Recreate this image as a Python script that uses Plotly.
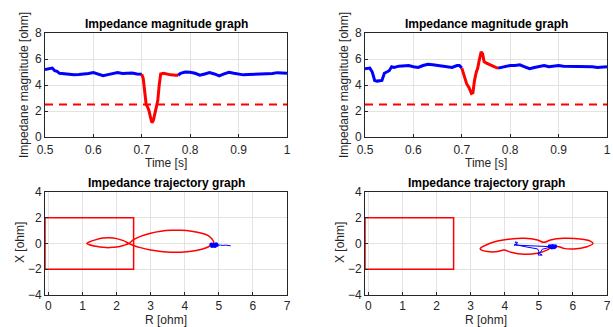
import plotly.graph_objects as go

# ---------------- data ----------------
# Left magnitude graph
t1_blue_a = [0.50, 0.505, 0.51, 0.515, 0.52, 0.525, 0.53, 0.54, 0.55, 0.56, 0.57, 0.58, 0.59, 0.60,
             0.61, 0.62, 0.63, 0.64, 0.65, 0.66, 0.67, 0.68, 0.69, 0.70]
z1_blue_a = [5.2, 5.25, 5.3, 5.3, 5.1, 5.05, 4.9, 4.85, 4.8, 4.78, 4.8, 4.82, 4.88, 4.95,
             4.85, 4.72, 4.8, 4.9, 4.95, 4.88, 4.9, 4.92, 4.85, 4.82]
t1_red = [0.70, 0.703, 0.706, 0.709, 0.712, 0.715, 0.718, 0.721, 0.724, 0.727, 0.730, 0.733, 0.736,
          0.739, 0.745, 0.75, 0.76, 0.77, 0.775]
z1_red = [4.82, 4.5, 3.5, 2.5, 2.3, 2.0, 1.5, 1.1, 1.3, 1.9, 2.4, 2.8, 4.0,
          4.85, 4.9, 4.85, 4.78, 4.75, 4.75]
t1_blue_b = [0.775, 0.78, 0.79, 0.80, 0.81, 0.82, 0.83, 0.84, 0.85, 0.86, 0.87, 0.88, 0.89, 0.90,
             0.91, 0.92, 0.93, 0.94, 0.95, 0.96, 0.97, 0.98, 0.99, 1.0]
z1_blue_b = [4.75, 4.9, 5.0, 4.98, 4.9, 4.75, 4.85, 4.95, 4.85, 4.7, 4.85, 4.98, 4.9, 4.85,
             4.78, 4.8, 4.82, 4.85, 4.82, 4.85, 4.88, 4.95, 4.9, 4.9]

# Right magnitude graph
t2_blue_a = [0.50, 0.505, 0.51, 0.515, 0.52, 0.525, 0.53, 0.535, 0.54, 0.545, 0.55, 0.555, 0.56, 0.57,
             0.58, 0.59, 0.60, 0.61, 0.62, 0.63, 0.64, 0.65, 0.66, 0.67, 0.68, 0.69, 0.695, 0.70]
z2_blue_a = [5.25, 5.25, 5.3, 5.0, 4.35, 4.3, 4.3, 4.35, 4.9, 5.0, 5.1, 5.4, 5.35, 5.45,
             5.45, 5.5, 5.4, 5.35, 5.5, 5.6, 5.55, 5.5, 5.45, 5.4, 5.35, 5.5, 5.5, 5.3]
t2_red = [0.70, 0.705, 0.71, 0.715, 0.72, 0.723, 0.726, 0.73, 0.733, 0.736, 0.74, 0.743, 0.746,
          0.75, 0.755, 0.76, 0.77, 0.775]
z2_red = [5.3, 4.6, 4.1, 3.8, 3.35, 3.4, 4.3, 5.0, 5.3, 5.9, 6.55, 6.4, 5.8,
          5.7, 5.6, 5.5, 5.35, 5.3]
t2_blue_b = [0.775, 0.78, 0.79, 0.80, 0.81, 0.82, 0.83, 0.84, 0.85, 0.86, 0.87, 0.88, 0.89, 0.90,
             0.91, 0.92, 0.93, 0.94, 0.95, 0.96, 0.97, 0.98, 0.99, 1.0]
z2_blue_b = [5.3, 5.35, 5.4, 5.5, 5.5, 5.55, 5.4, 5.25, 5.35, 5.45, 5.5, 5.4, 5.45, 5.5,
             5.45, 5.45, 5.4, 5.45, 5.45, 5.4, 5.4, 5.35, 5.4, 5.4]

threshold = 2.5
t_range = [0.5, 1.0]

# Protection zone rectangle
zone_r = [-0.1, 2.5, 2.5, -0.1, -0.1]
zone_x = [2.0, 2.0, -2.0, -2.0, 2.0]

# Left trajectory (red) and steady-state (blue)
traj1_r = [4.82, 4.85, 4.8, 4.7, 4.5, 4.2, 3.9, 3.6, 3.3, 3.0, 2.7, 2.5, 2.36,
           2.2, 2.0, 1.8, 1.6, 1.4, 1.2, 1.13, 1.2, 1.4, 1.6, 1.8, 2.0, 2.2, 2.36,
           2.5, 2.7, 3.0, 3.3, 3.6, 3.9, 4.2, 4.5, 4.7, 4.82]
traj1_x = [0.0, 0.12, 0.35, 0.6, 0.8, 0.95, 1.02, 1.02, 0.95, 0.8, 0.55, 0.3, 0.0,
           -0.15, -0.28, -0.32, -0.3, -0.22, -0.1, 0.0, 0.12, 0.3, 0.42, 0.45, 0.38, 0.22, 0.0,
           -0.15, -0.32, -0.5, -0.62, -0.68, -0.67, -0.6, -0.45, -0.25, -0.02]
ss1_r = [4.75, 4.8, 4.9, 4.85, 4.95, 4.88, 4.8, 4.92, 5.05, 5.1, 5.2, 5.35]
ss1_x = [-0.05, -0.15, -0.12, -0.05, -0.1, -0.2, -0.1, -0.15, -0.12, -0.15, -0.13, -0.18]
blob1_r = [4.78, 4.82, 4.86, 4.9, 4.94, 4.8, 4.88, 4.92]
blob1_x = [-0.08, -0.14, -0.1, -0.16, -0.12, -0.2, -0.2, -0.06]

# Right trajectory (red) and steady-state (blue)
traj2_r = [5.39, 5.25, 4.96, 4.57, 4.18, 3.98, 3.79, 3.5, 3.32, 3.28, 3.5, 3.79, 4.18, 4.57, 4.96,
           5.15, 5.34, 5.73, 6.22, 6.51, 6.59, 6.41, 6.02, 5.73, 5.59, 5.39]
traj2_x = [-0.25, -0.5, -0.76, -0.84, -0.68, -0.5, -0.63, -0.63, -0.52, -0.4, -0.06, 0.19, 0.35, 0.4, 0.27,
           0.09, 0.27, 0.4, 0.35, 0.19, 0.0, -0.25, -0.43, -0.38, -0.25, -0.25]
ss2_r = [5.39, 5.0, 4.6, 4.27, 4.35, 4.3, 4.38, 4.33, 4.6, 4.96, 5.0, 4.98, 5.1, 5.02, 5.1, 5.3, 5.39]
ss2_x = [-0.25, -0.2, -0.13, -0.12, -0.05, 0.12, 0.08, -0.1, -0.25, -0.42, -0.6, -0.9, -0.9, -0.8, -0.45, -0.3, -0.25]
blob2_r = [5.32, 5.36, 5.4, 5.44, 5.48, 5.38, 5.45]
blob2_x = [-0.22, -0.28, -0.2, -0.26, -0.22, -0.32, -0.3]

# ---------------- figure ----------------
BLUE = "#0000ff"
RED = "#ff0000"
fig = go.Figure()

def line(x, y, color, width, xa, ya, dash=None, shape="linear", mode="lines", msize=0):
    fig.add_trace(go.Scatter(x=x, y=y, mode=mode, xaxis=xa, yaxis=ya,
                             line=dict(color=color, width=width, dash=dash, shape=shape),
                             marker=dict(size=msize, color=color), showlegend=False,
                             hoverinfo="skip"))

# top-left
line(t1_blue_a, z1_blue_a, BLUE, 3, "x", "y")
line(t1_blue_b, z1_blue_b, BLUE, 3, "x", "y")
line(t1_red, z1_red, RED, 3, "x", "y")
line(t_range, [threshold, threshold], RED, 2, "x", "y", dash="8px,6px")
# top-right
line(t2_blue_a, z2_blue_a, BLUE, 3, "x2", "y2")
line(t2_blue_b, z2_blue_b, BLUE, 3, "x2", "y2")
line(t2_red, z2_red, RED, 3, "x2", "y2")
line(t_range, [threshold, threshold], RED, 2, "x2", "y2", dash="8px,6px")
# bottom-left
line(zone_r, zone_x, RED, 1.5, "x3", "y3")
line(traj1_r, traj1_x, RED, 1.5, "x3", "y3", shape="spline")
line(ss1_r, ss1_x, BLUE, 1, "x3", "y3")
line(blob1_r, blob1_x, BLUE, 0, "x3", "y3", mode="markers", msize=4)
# bottom-right
line(zone_r, zone_x, RED, 1.5, "x4", "y4")
line(traj2_r, traj2_x, RED, 1.5, "x4", "y4", shape="spline")
line(ss2_r, ss2_x, BLUE, 1, "x4", "y4")
line(blob2_r, blob2_x, BLUE, 0, "x4", "y4", mode="markers", msize=4)

FONT = "Liberation Sans, Arial, sans-serif"
W, H = 613, 327
L1, R1 = 45 / W, 287 / W
L2, R2 = 365 / W, 607 / W
T_top, B_top = 1 - 33 / H, 1 - 137 / H
T_bot, B_bot = 1 - 192 / H, 1 - 295 / H

axcommon = dict(showgrid=True, gridcolor="#e3e3e3", gridwidth=1, zeroline=False,
                showline=True, linecolor="#262626", linewidth=1, mirror=True,
                ticks="inside", ticklen=3, tickcolor="#262626", automargin=False,
                ticklabeloverflow="allow",
                tickfont=dict(family=FONT, size=12, color="#262626"))

tvals = [0.5, 0.6, 0.7, 0.8, 0.9, 1.0]
ttext = ["0.5", "0.6", "0.7", "0.8", "0.9", "1"]

fig.update_layout(
    width=W, height=H, margin=dict(l=0, r=0, t=0, b=0),
    paper_bgcolor="white", plot_bgcolor="white",
    xaxis=dict(domain=[L1, R1], anchor="y", range=t_range, tickvals=tvals, ticktext=ttext,
               ticklabelstandoff=2, **axcommon),
    yaxis=dict(domain=[B_top, T_top], anchor="x", range=[0, 8], dtick=2, **axcommon),
    xaxis2=dict(domain=[L2, R2], anchor="y2", range=t_range, tickvals=tvals, ticktext=ttext,
                ticklabelstandoff=2, **axcommon),
    yaxis2=dict(domain=[B_top, T_top], anchor="x2", range=[0, 8], dtick=2, **axcommon),
    xaxis3=dict(domain=[L1, R1], anchor="y3", range=[-0.1, 7], dtick=1, ticklabelstandoff=0, **axcommon),
    yaxis3=dict(domain=[B_bot, T_bot], anchor="x3", range=[-4, 4], dtick=2, **axcommon),
    xaxis4=dict(domain=[L2, R2], anchor="y4", range=[-0.1, 7], dtick=1, ticklabelstandoff=0, **axcommon),
    yaxis4=dict(domain=[B_bot, T_bot], anchor="x4", range=[-4, 4], dtick=2, **axcommon),
)

def ann(text, xpx, ypx, size=12, bold=False, angle=0):
    fig.add_annotation(text=f"<b>{text}</b>" if bold else text,
                       x=xpx / W, y=1 - ypx / H, xref="paper", yref="paper",
                       showarrow=False, textangle=angle, xanchor="center", yanchor="middle",
                       font=dict(family=FONT, size=size, color="#000000" if bold else "#262626"))

ann("Impedance magnitude graph", 166, 24, size=12, bold=True)
ann("Impedance magnitude graph", 486, 24, size=12, bold=True)
ann("Impedance trajectory graph", 166, 183, size=12, bold=True)
ann("Impedance trajectory graph", 486, 183, size=12, bold=True)
ann("Time [s]", 166, 163)
ann("Time [s]", 486, 163)
ann("R [ohm]", 166, 320)
ann("R [ohm]", 486, 320)
ann("Impedane magnitude [ohm]", 24, 85, angle=-90)
ann("Impedane magnitude [ohm]", 344, 85, angle=-90)
ann("X [ohm]", 20, 243, angle=-90)
ann("X [ohm]", 340, 243, angle=-90)

fig.write_html("out.html", config={"displayModeBar": False},
               post_script="document.body.style.margin='0px';document.body.style.overflow='hidden';")
